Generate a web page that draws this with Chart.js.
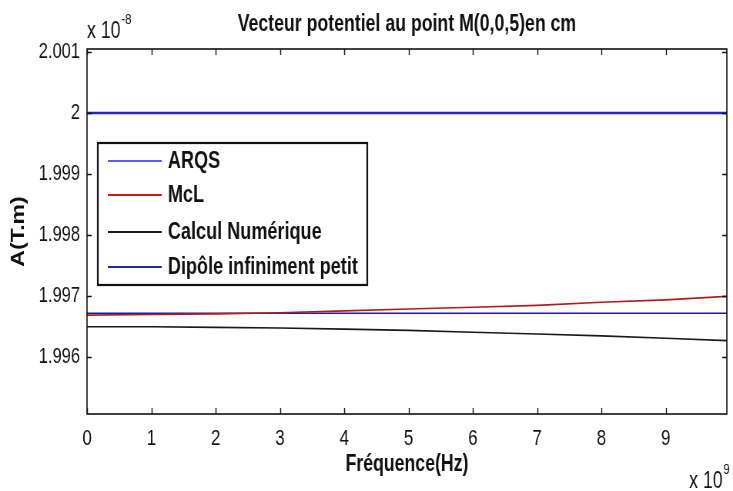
<!DOCTYPE html>
<html>
<head>
<meta charset="utf-8">
<script src="https://cdn.jsdelivr.net/npm/chart.js@4.4.1/dist/chart.umd.min.js"></script>
<style>
  html, body { margin: 0; padding: 0; background: #fff; overflow: hidden; }
  #chart { display: block; }
</style>
</head>
<body>
<!-- the figure is drawn wide and displayed horizontally condensed -->
<canvas id="chart" width="952" height="491" style="width:733px;height:491px"></canvas>
<script>
// Frequency samples, in units of 1e9 Hz
const frequencies = [0, 1, 2, 3, 4, 5, 6, 7, 8, 9, 10];
// Vector potential, in units of 1e-8 T.m
const arqs      = [2, 2, 2, 2, 2, 2, 2, 2, 2, 2, 2];
const mcl       = [1.99669, 1.99670, 1.99671, 1.99673, 1.99676, 1.99679, 1.99682, 1.99685, 1.99690, 1.99694, 1.99700];
const numerique = [1.99650, 1.99650, 1.99649, 1.99648, 1.99646, 1.99644, 1.99641, 1.99638, 1.99635, 1.99631, 1.99627];
const dipole    = [1.99672, 1.99672, 1.99672, 1.99672, 1.99672, 1.99672, 1.99672, 1.99672, 1.99672, 1.99672, 1.99672];
const seriesNames = ['ARQS', 'McL', 'Calcul Numérique', 'Dipôle infiniment petit'];
const xTicks = [0, 1, 2, 3, 4, 5, 6, 7, 8, 9];
const yTicks = [1.996, 1.997, 1.998, 1.999, 2, 2.001];

const FONT = "'Liberation Sans', Arial, sans-serif";
const toPoints = ys => frequencies.map((f, i) => ({ x: f, y: ys[i] }));

const series = [
  { label: seriesNames[0], data: toPoints(arqs),      borderColor: '#2424c8', borderWidth: 2.5, legendColor: '#5a5af0' },
  { label: seriesNames[1], data: toPoints(mcl),       borderColor: '#b01c1c', borderWidth: 1.6, legendColor: '#d01818' },
  { label: seriesNames[2], data: toPoints(numerique), borderColor: '#1a1a1a', borderWidth: 1.6, legendColor: '#1a1a1a' },
  { label: seriesNames[3], data: toPoints(dipole),    borderColor: '#1c1ca8', borderWidth: 1.6, legendColor: '#2626a8' }
].map(d => Object.assign(d, { pointRadius: 0, tension: 0, fill: false }));

// MATLAB-like frame: box, inward ticks, exponent labels, title, inset legend
const framePlugin = {
  id: 'frame',
  afterDraw(chart) {
    const { ctx, chartArea: a, scales: { x, y } } = chart;
    ctx.save();
    ctx.strokeStyle = '#111';
    ctx.lineWidth = 1.6;
    ctx.strokeRect(a.left, a.top, a.right - a.left, a.bottom - a.top);
    ctx.lineWidth = 1.4;
    ctx.beginPath();
    const tl = 6;
    xTicks.forEach(v => {
      const px = Math.round(x.getPixelForValue(v)) + 0.5;
      ctx.moveTo(px, a.bottom); ctx.lineTo(px, a.bottom - tl);
      ctx.moveTo(px, a.top); ctx.lineTo(px, a.top + tl);
    });
    yTicks.forEach(v => {
      const py = Math.round(y.getPixelForValue(v)) + 0.5;
      ctx.moveTo(a.left, py); ctx.lineTo(a.left + tl, py);
      ctx.moveTo(a.right, py); ctx.lineTo(a.right - tl, py);
    });
    ctx.stroke();

    // title
    ctx.fillStyle = '#111';
    ctx.textAlign = 'center';
    ctx.textBaseline = 'middle';
    ctx.font = 'bold 23px ' + FONT;
    ctx.fillText('Vecteur potentiel au point M(0,0,5)en cm', (a.left + a.right) / 2, 25);

    // exponent labels
    ctx.textAlign = 'left';
    ctx.textBaseline = 'alphabetic';
    ctx.font = '23px ' + FONT;
    ctx.fillText('x 10', a.left, 38);
    let w = ctx.measureText('x 10').width;
    ctx.font = '15px ' + FONT;
    ctx.fillText('-8', a.left + w + 1, 24);
    ctx.font = '23px ' + FONT;
    ctx.fillText('x 10', 895, 488);
    w = ctx.measureText('x 10').width;
    ctx.font = '15px ' + FONT;
    ctx.fillText('9', 895 + w + 1, 474);

    // legend
    const box = { left: 127, top: 143, right: 477, bottom: 285 };
    ctx.fillStyle = '#fff';
    ctx.fillRect(box.left, box.top, box.right - box.left, box.bottom - box.top);
    ctx.strokeStyle = '#111';
    ctx.lineWidth = 2.2;
    ctx.strokeRect(box.left, box.top, box.right - box.left, box.bottom - box.top);
    const rows = [161, 195, 232, 267];
    ctx.font = 'bold 23.5px ' + FONT;
    ctx.textBaseline = 'middle';
    chart.data.datasets.forEach((ds, i) => {
      ctx.strokeStyle = ds.legendColor;
      ctx.lineWidth = 2;
      ctx.beginPath();
      ctx.moveTo(140, rows[i]); ctx.lineTo(210, rows[i]);
      ctx.stroke();
      ctx.fillStyle = '#111';
      ctx.fillText(ds.label, 218, rows[i] + 1);
    });
    ctx.restore();
  }
};

new Chart(document.getElementById('chart'), {
  type: 'line',
  data: { datasets: series },
  options: {
    responsive: false,
    animation: false,
    layout: { padding: { top: 49, right: 8, left: 0, bottom: 0 } },
    plugins: { legend: { display: false }, tooltip: { enabled: false }, title: { display: false } },
    scales: {
      x: {
        type: 'linear', min: 0, max: 9.95,
        afterBuildTicks: s => { s.ticks = xTicks.map(v => ({ value: v })); },
        afterFit: s => { s.height = 77; },
        grid: { display: false, drawTicks: false },
        border: { display: false },
        ticks: { padding: 12, color: '#111', font: { family: FONT, size: 22 }, maxRotation: 0,
                 callback: v => String(v) },
        title: { display: true, text: 'Fréquence(Hz)', color: '#111',
                 font: { family: FONT, size: 23, weight: 'bold' }, padding: { top: 0, bottom: 13 } }
      },
      y: {
        type: 'linear', min: 1.99507, max: 2.00105,
        afterBuildTicks: s => { s.ticks = yTicks.map(v => ({ value: v })); },
        afterFit: s => { s.width = 113; },
        grid: { display: false, drawTicks: false },
        border: { display: false },
        ticks: { padding: 9, color: '#111', font: { family: FONT, size: 21.5 },
                 callback: v => String(parseFloat(v.toFixed(3))) },
        title: { display: true, text: 'A(T.m)', color: '#111',
                 font: { family: FONT, size: 23, weight: 'bold' }, padding: { top: 11, bottom: 0 } }
      }
    }
  },
  plugins: [framePlugin]
});
</script>
</body>
</html>
